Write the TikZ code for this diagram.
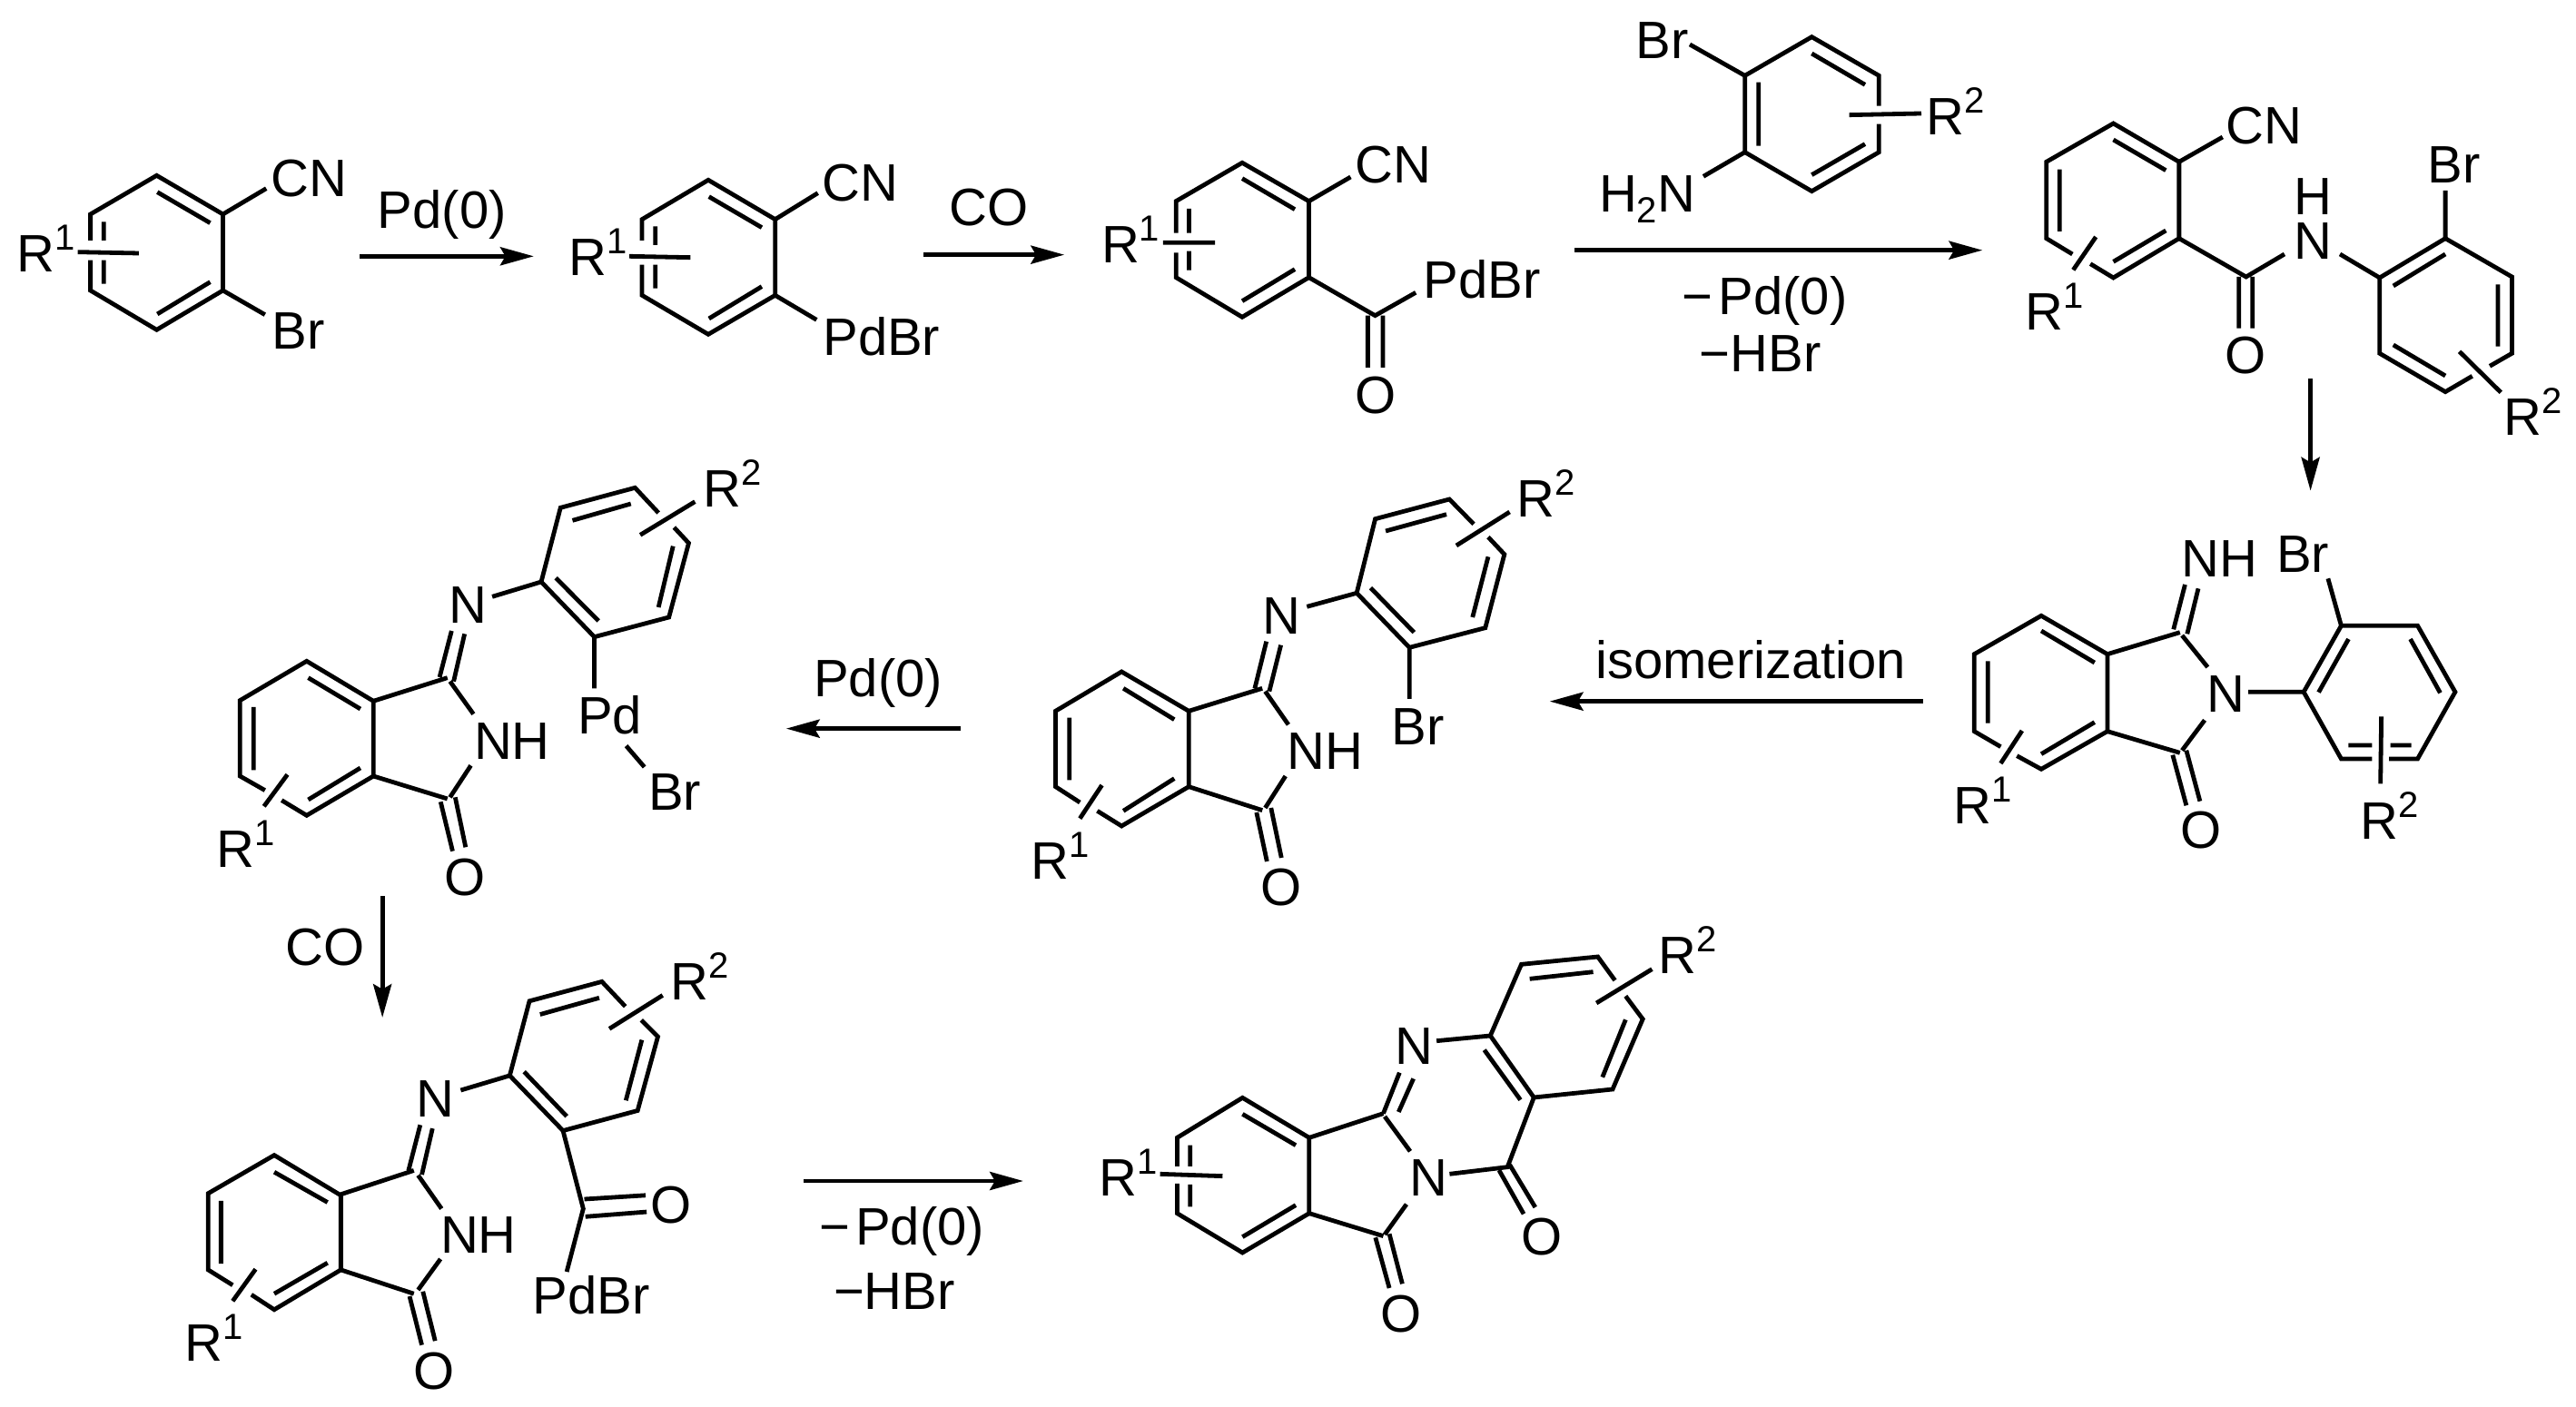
\documentclass[tikz,border=0pt]{standalone}
\usepackage{fontspec}
\setmainfont{Liberation Sans}
\usetikzlibrary{arrows.meta}
\newcommand\Rone{R\raisebox{6pt}{\fontsize{10}{11}\selectfont 1}}
\newcommand\Rtwo{R\raisebox{6pt}{\fontsize{10}{11}\selectfont 2}}
\tikzset{
  bond/.style={draw=black,line width=1.2pt,line join=miter},
  lbl/.style={anchor=base west,inner sep=0pt,outer sep=0pt,text=black,font=\fontsize{14.5}{16}\selectfont},
  rxn/.style={draw=black,line width=1.2pt,-{Stealth[length=9.2pt,width=5pt,inset=1.4pt]}},
  zoneA/.style={x=0.17537pt,y=-0.083333pt,shift={(0pt,-25pt)}},
  zoneB/.style={x=0.1435pt,y=-0.083333pt,shift={(275pt,0pt)}},
  zoneC/.style={x=0.1175pt,y=-0.083333pt,shift={(525pt,-12.5pt)}},
  zoneD/.style={x=0.1175pt,y=-0.083333pt,shift={(525pt,-137.5pt)}},
  zoneE/.style={x=0.15945pt,y=-0.083333pt,shift={(275pt,-125pt)}},
  zoneF/.style={x=0.1435pt,y=-0.083333pt,shift={(50pt,-120pt)}},
  zoneG/.style={x=0.14668pt,y=-0.0877pt,shift={(45pt,-250pt)}},
  zoneH/.style={x=0.12755pt,y=-0.083333pt,shift={(287.5pt,-250pt)}},
  zoneI/.style={x=0.083333pt,y=-0.083333pt,shift={(437.5pt,0pt)}},
  zoneJ/.style={x=0.083333pt,y=-0.083333pt,shift={(412.5pt,-165pt)}},
}
\begin{document}
\begin{tikzpicture}
\fill[white] (0pt,0pt) rectangle (709.25pt,-387.5pt);
\useasboundingbox (0pt,0pt) rectangle (709.25pt,-387.5pt);

% molecules 1 and 2, first arrows
\begin{scope}[zoneA]
\draw[bond] (142,495)--(142,408)--(246,280)--(350,408)--(350,660)--(246,790)--(142,660)--(142,560);
\draw[bond] (163,433)--(163,495) (163,560)--(163,638) (122,533)--(218,537)
  (247,335)--(330,437) (247,738)--(330,632) (350,408)--(418,323) (350,660)--(416,740);
\node[lbl] (m1cn) at (425,350) {CN};
\node[lbl] (m1br) at (427,855) {Br};
\node[lbl] (m1r) at (27,598) {\Rone};
\draw[bond] (1008,495)--(1008,425)--(1112,295)--(1217,425)--(1217,676)--(1112,805)--(1008,676)--(1008,575);
\draw[bond] (1029,448)--(1029,510) (1029,575)--(1029,653) (988,547)--(1084,551)
  (1113,350)--(1196,452) (1113,753)--(1196,647) (1217,425)--(1284,338) (1217,676)--(1282,757);
\node[lbl] (m2cn) at (1291,365) {CN};
\node[lbl] (m2pd) at (1292,875) {PdBr};
\node[lbl] (m2r) at (893,612) {\Rone};
\node[lbl] (a1t) at (593,455) {Pd(0)};
\coordinate (a1s) at (565,547);
\coordinate (a1e) at (838,547);
\draw[rxn] (a1s)--(a1e);
\node[lbl] (a2t) at (1491,445) {CO};
\coordinate (a2s) at (1450,542);
\coordinate (a2e) at (1671,542);
\draw[rxn] (a2s)--(a2e);
\end{scope}

% molecule 3
\begin{scope}[zoneB]
\draw[bond] (340,770)--(340,665)--(467,538)--(595,665)--(595,917)--(467,1048)--(340,917)--(340,835);
\draw[bond] (365,690)--(365,770) (365,830)--(365,893) (315,802)--(415,802)
  (467,590)--(568,692) (467,995)--(568,890) (595,665)--(675,585)
  (595,917)--(722,1043)--(800,967) (708,1043)--(708,1215) (737,1043)--(737,1215);
\node[lbl] (m3cn) at (684,605) {CN};
\node[lbl] (m3pd) at (815,987) {PdBr};
\node[lbl] (m3o) at (684,1368) {O};
\node[lbl] (m3r) at (197,870) {\Rone};
\end{scope}

% reagent and long arrow
\begin{scope}[zoneI]
\draw[bond] (958,350)--(958,250)--(736,122)--(515,250)--(515,503)--(736,632)--(958,503)--(958,410);
\draw[bond] (736,177)--(912,280) (736,578)--(912,476) (560,272)--(560,482)
  (860,380)--(1098,375) (515,250)--(333,147) (515,503)--(378,583);
\node[lbl] (m0br) at (155,195) {Br};
\node[lbl] (m0nh) at (33,700) {H\raisebox{-3pt}{\fontsize{10}{11}\selectfont 2}N};
\node[lbl] (m0r) at (1114,445) {\Rtwo};
\node[lbl] (a3m) at (308,1040) {−\kern1.5pt Pd(0)};
\node[lbl] (a3n) at (365,1230) {−HBr};
\coordinate (a3s) at (-48,827);
\coordinate (a3e) at (1300,827);
\draw[rxn] (a3s)--(a3e);
\end{scope}

% molecule 4
\begin{scope}[zoneC]
\draw[bond] (388,690)--(327,638)--(327,385)--(484,258)--(638,385)--(638,638)--(484,768)--(430,722);
\draw[bond] (484,312)--(607,413) (484,715)--(607,612) (358,410)--(358,615) (443,633)--(390,742)
  (638,385)--(740,303) (638,638)--(795,765)--(885,690) (778,765)--(778,935) (810,765)--(810,935)
  (1015,690)--(1108,768);
\draw[bond] (1366,1060)--(1418,1018)--(1418,765)--(1262,638)--(1108,768)--(1108,1018)--(1262,1145)--(1325,1093);
\draw[bond] (1262,690)--(1140,795) (1385,790)--(1385,995) (1140,990)--(1262,1092)
  (1295,1012)--(1392,1147) (1262,638)--(1262,480);
\node[lbl] (m4cn) at (748,327) {CN};
\node[lbl] (m4o) at (746,1085) {O};
\node[lbl] (m4n) at (908,708) {N};
\node[lbl] (m4h) at (908,560) {H};
\node[lbl] (m4br) at (1221,455) {Br};
\node[lbl] (m4r) at (278,942) {\Rone};
\node[lbl] (m4rb) at (1399,1290) {\Rtwo};
\coordinate (a4s) at (946,1102);
\coordinate (a4e) at (946,1472);
\draw[rxn] (a4s)--(a4e);
\end{scope}

% molecule 5
\begin{scope}[zoneD]
\draw[bond] (220,818)--(158,767)--(158,512)--(315,385)--(470,512)--(470,767)--(315,892)--(258,848);
\draw[bond] (315,435)--(440,540) (315,842)--(440,737) (190,535)--(190,740) (270,765)--(220,873)
  (470,512)--(640,440) (645,450)--(705,555) (470,767)--(640,838) (645,830)--(698,730)
  (625,430)--(652,282) (657,445)--(683,295) (623,845)--(655,1012) (655,830)--(687,998)
  (800,637)--(930,637);
\draw[bond] (1090,858)--(1018,858)--(930,637)--(1018,418)--(1197,418)--(1285,637)--(1197,858)--(1130,858);
\draw[bond] (965,638)--(1035,462) (1180,462)--(1250,640) (1035,813)--(1090,813) (1133,813)--(1182,813)
  (1112,718)--(1110,940) (1018,418)--(987,262);
\node[lbl] (m5nh) at (644,258) {NH};
\node[lbl] (m5n) at (703,705) {N};
\node[lbl] (m5o) at (642,1155) {O};
\node[lbl] (m5br) at (866,243) {Br};
\node[lbl] (m5r) at (109,1072) {\Rone};
\node[lbl] (m5rb) at (1063,1125) {\Rtwo};
\end{scope}

% isomerization arrow
\begin{scope}[zoneJ]
\node[lbl] (a5t) at (322,263) {isomerization};
\coordinate (a5s) at (1403,338);
\coordinate (a5e) at (170,338);
\draw[rxn] (a5s)--(a5e);
\end{scope}

% molecule 6
\begin{scope}[zoneE]
\draw[bond] (140,1152)--(98,1100)--(98,850)--(212,720)--(328,850)--(328,1100)--(212,1230)--(170,1180);
\draw[bond] (215,775)--(303,878) (215,1180)--(303,1073) (122,872)--(122,1078) (178,1095)--(140,1205)
  (328,850)--(455,775) (460,785)--(500,895) (328,1100)--(455,1178) (460,1170)--(495,1065)
  (442,775)--(462,620) (467,785)--(487,632) (445,1185)--(463,1347) (470,1170)--(488,1335)
  (709,640)--(709,810) (532,505)--(618,460);
\draw[bond] (820,232)--(778,150)--(650,215)--(618,460)--(709,640)--(840,575)--(873,332)--(845,275);
\draw[bond] (668,255)--(773,200) (845,340)--(818,540) (717,590)--(642,443) (790,303)--(882,192);
\node[lbl] (m6n) at (456,595) {N};
\node[lbl] (m6nh) at (498,1043) {NH};
\node[lbl] (m6o) at (452,1492) {O};
\node[lbl] (m6br) at (678,962) {Br};
\node[lbl] (m6r) at (56,1405) {\Rone};
\node[lbl] (m6rb) at (895,210) {\Rtwo};
\end{scope}

% molecule 7
\begin{scope}[zoneF]
\draw[bond] (160,1172)--(112,1125)--(112,875)--(240,745)--(368,877)--(368,1125)--(240,1255)--(192,1205);
\draw[bond] (243,800)--(343,903) (243,1203)--(343,1098) (138,897)--(138,1105) (203,1120)--(158,1225)
  (368,877)--(510,800) (515,812)--(560,920) (368,1125)--(510,1200) (515,1195)--(555,1090)
  (495,798)--(518,645) (522,812)--(543,655) (497,1210)--(520,1373) (525,1195)--(545,1360)
  (596,532)--(690,483) (792,665)--(792,835) (853,1025)--(888,1095);
\draw[bond] (915,255)--(870,172)--(727,238)--(690,483)--(792,665)--(935,600)--(973,355)--(945,303);
\draw[bond] (750,280)--(862,225) (943,365)--(915,567) (800,612)--(718,470) (880,328)--(985,218);
\node[lbl] (m7n) at (513,620) {N};
\node[lbl] (m7nh) at (561,1070) {NH};
\node[lbl] (m7o) at (505,1520) {O};
\node[lbl] (m7pd) at (760,987) {Pd};
\node[lbl] (m7br) at (896,1237) {Br};
\node[lbl] (m7r) at (67,1428) {\Rone};
\node[lbl] (m7rb) at (1001,235) {\Rtwo};
\node[lbl] (a6t) at (1213,863) {Pd(0)};
\coordinate (a6s) at (1495,968);
\coordinate (a6e) at (1160,968);
\draw[rxn] (a6s)--(a6e);
\end{scope}

% molecule 8
\begin{scope}[zoneG]
\draw[bond] (130,1185)--(84,1137)--(84,897)--(208,777)--(333,903)--(333,1137)--(208,1262)--(165,1215);
\draw[bond] (208,830)--(308,925) (208,1212)--(308,1115) (108,920)--(108,1118) (173,1135)--(130,1235)
  (333,900)--(470,825) (478,840)--(522,945) (333,1137)--(470,1212) (478,1200)--(520,1103)
  (460,825)--(482,682) (485,838)--(505,693) (462,1220)--(485,1373) (487,1205)--(510,1360)
  (558,573)--(650,527);
\draw[bond] (867,310)--(823,232)--(687,293)--(650,527)--(750,700)--(890,637)--(928,405)--(897,353);
\draw[bond] (707,335)--(818,283) (898,415)--(868,605) (757,655)--(677,515) (837,380)--(937,275)
  (750,700)--(788,945)--(757,1143) (790,915)--(905,903) (792,970)--(907,955);
\node[lbl] (m8n) at (475,657) {N};
\node[lbl] (m8nh) at (520,1085) {NH};
\node[lbl] (m8o) at (469,1512) {O};
\node[lbl] (m8ob) at (914,990) {O};
\node[lbl] (m8pd) at (693,1275) {PdBr};
\node[lbl] (m8r) at (40,1425) {\Rone};
\node[lbl] (m8rb) at (952,290) {\Rtwo};
\node[lbl] (a7t) at (229,182) {CO};
\coordinate (a7s) at (411,-37);
\coordinate (a7e) at (411,345);
\draw[rxn] (a7s)--(a7e);
\coordinate (a8s) at (1202,858);
\coordinate (a8e) at (1614,858);
\draw[rxn] (a8s)--(a8e);
\node[lbl] (a8m) at (1231,1058) {−\kern1.5pt Pd(0)};
\node[lbl] (a8n) at (1258,1262) {−HBr};
\end{scope}

% molecule 9
\begin{scope}[zoneH]
\draw[bond] (287,855)--(287,760)--(428,628)--(572,760)--(572,1010)--(428,1140)--(287,1010)--(287,912);
\draw[bond] (315,785)--(315,855) (315,915)--(315,988) (428,682)--(543,785) (428,1088)--(543,983)
  (250,880)--(385,887)
  (572,760)--(732,680) (735,690)--(790,805) (572,1010)--(732,1085) (735,1080)--(782,980)
  (732,680)--(767,545) (765,675)--(797,565) (715,1090)--(745,1257) (745,1078)--(773,1243)
  (875,880)--(1000,857)--(1057,627) (982,868)--(1035,1012) (1005,850)--(1060,990)
  (847,440)--(963,423);
\draw[bond] (1232,240)--(1195,162)--(1030,187)--(963,423)--(1057,627)--(1227,600)--(1292,368)--(1255,292);
\draw[bond] (1048,235)--(1185,212) (1255,370)--(1205,560) (1028,635)--(950,470) (1192,315)--(1312,203);
\node[lbl] (m9n) at (757,517) {N};
\node[lbl] (m9nb) at (789,953) {N};
\node[lbl] (m9o) at (1029,1147) {O};
\node[lbl] (m9ob) at (727,1402) {O};
\node[lbl] (m9r) at (118,952) {\Rone};
\node[lbl] (m9rb) at (1326,218) {\Rtwo};
\end{scope}
\end{tikzpicture}
\end{document}
